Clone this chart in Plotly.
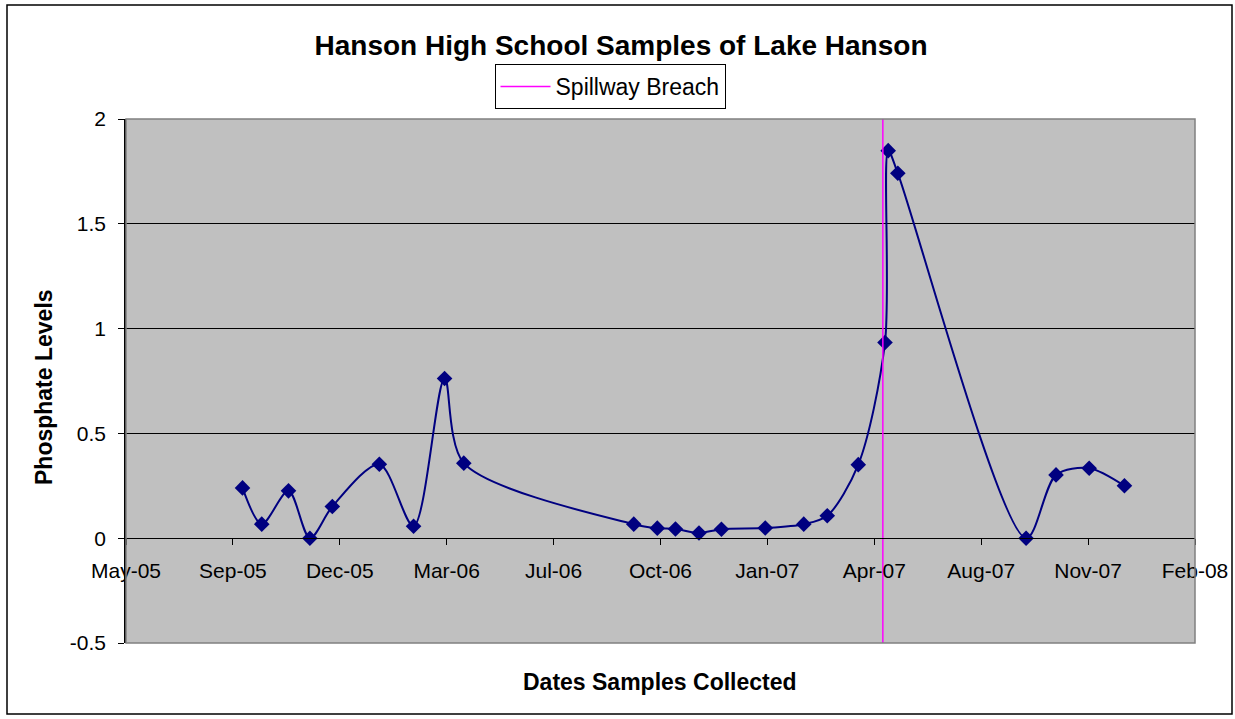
import plotly.graph_objects as go

# ---- data ----
sample_dates = ["2005-09-14", "2005-10-02", "2005-10-27", "2005-11-16", "2005-12-07",
                "2006-01-20", "2006-02-21", "2006-03-22", "2006-04-09", "2006-09-15",
                "2006-10-07", "2006-10-24", "2006-11-15", "2006-12-06", "2007-01-16",
                "2007-02-21", "2007-03-15", "2007-04-13", "2007-05-08", "2007-05-11",
                "2007-05-20", "2007-09-17", "2007-10-15", "2007-11-15", "2007-12-18"]
phosphate = [0.24, 0.067, 0.226, 0.0, 0.151,
             0.353, 0.057, 0.762, 0.358, 0.067,
             0.048, 0.044, 0.025, 0.043, 0.049,
             0.067, 0.107, 0.351, 0.934, 1.849,
             1.741, 0.0, 0.302, 0.334, 0.25]

breach_date = "2007-05-06"
breach_y = [-0.5, 2.0]

x_tick_dates = ["2005-05-28", "2005-09-05", "2005-12-14", "2006-03-24", "2006-07-02",
                "2006-10-10", "2007-01-18", "2007-04-28", "2007-08-06", "2007-11-14",
                "2008-02-22"]
x_tick_labels = ["May-05", "Sep-05", "Dec-05", "Mar-06", "Jul-06", "Oct-06",
                 "Jan-07", "Apr-07", "Aug-07", "Nov-07", "Feb-08"]
y_tick_vals = [-0.5, 0, 0.5, 1, 1.5, 2]
y_tick_labels = ["-0.5", "0", "0.5", "1", "1.5", "2"]

FONT = "Liberation Sans, Arial, sans-serif"
NAVY = "#000080"

fig = go.Figure()
fig.add_trace(go.Scatter(
    x=sample_dates, y=phosphate, mode="lines+markers",
    line=dict(color=NAVY, width=2, shape="spline", smoothing=0.85),
    marker=dict(symbol="diamond", size=12, color=NAVY),
    showlegend=False, name="Phosphate",
))
fig.add_trace(go.Scatter(
    x=[breach_date, breach_date], y=breach_y, mode="lines",
    line=dict(color="#FF00FF", width=1.5),
    name="Spillway Breach", showlegend=True,
))

W, H = 1235, 719
L, R, T, B = 126, 40, 119, 76
pw, ph = W - L - R, H - T - B

def px(xp):
    return (xp - L) / pw

def py(yp):
    return (H - B - yp) / ph

fig.update_layout(
    width=W, height=H,
    margin=dict(l=L, r=R, t=T, b=B, pad=0, autoexpand=False),
    paper_bgcolor="white", plot_bgcolor="#C0C0C0",
    font=dict(family=FONT, size=21, color="black"),
    title=dict(text="<b>Hanson High School Samples of Lake Hanson</b>",
               x=621 / W, xanchor="center", xref="container",
               y=1 - 45 / H, yanchor="middle", yref="container",
               font=dict(family=FONT, size=28, color="black")),
    legend=dict(x=610 / W, y=1 - 64 / H, xref="container", yref="container",
                xanchor="center", yanchor="top",
                orientation="h", bgcolor="white", bordercolor="black",
                borderwidth=1, font=dict(family=FONT, size=23, color="black"),
                itemwidth=50),
    xaxis=dict(
        type="date", range=[x_tick_dates[0], x_tick_dates[-1]],
        tickmode="array", tickvals=x_tick_dates, ticktext=x_tick_labels,
        showgrid=False, zeroline=False, showline=True, linecolor="black",
        linewidth=1, ticks="outside", ticklen=6, tickcolor="black",
        anchor="free", position=0.2, ticklabelstandoff=8, automargin=False,
        tickfont=dict(family=FONT, size=21, color="black"),
    ),
    yaxis=dict(
        range=[-0.5, 2], tickmode="array", tickvals=y_tick_vals,
        ticktext=y_tick_labels, showgrid=True, gridcolor="black", gridwidth=1,
        zeroline=False, showline=True, linecolor="black", linewidth=1.5,
        ticks="outside", ticklen=6, tickcolor="black", ticklabelstandoff=8,
        automargin=False,
        tickfont=dict(family=FONT, size=21, color="black"),
    ),
    annotations=[
        dict(text="<b>Phosphate Levels</b>", x=px(44), y=py(387), xref="paper",
             yref="paper", showarrow=False, textangle=-90,
             xanchor="center", yanchor="middle",
             font=dict(family=FONT, size=23, color="black")),
        dict(text="<b>Dates Samples Collected</b>", x=px(660), y=py(682),
             xref="paper", yref="paper", showarrow=False,
             xanchor="center", yanchor="middle",
             font=dict(family=FONT, size=23, color="black")),
    ],
    shapes=[
        dict(type="rect", xref="paper", yref="paper", x0=0, x1=1, y0=0, y1=1,
             line=dict(color="#808080", width=1.5), layer="above"),
        dict(type="rect", xref="paper", yref="paper",
             x0=px(7), x1=px(1232), y0=py(714), y1=py(5),
             line=dict(color="black", width=1.5)),
    ],
)

fig.write_html("out.html", config={"displayModeBar": False},
               post_script="document.body.style.margin='0px';document.body.style.overflow='hidden';")
